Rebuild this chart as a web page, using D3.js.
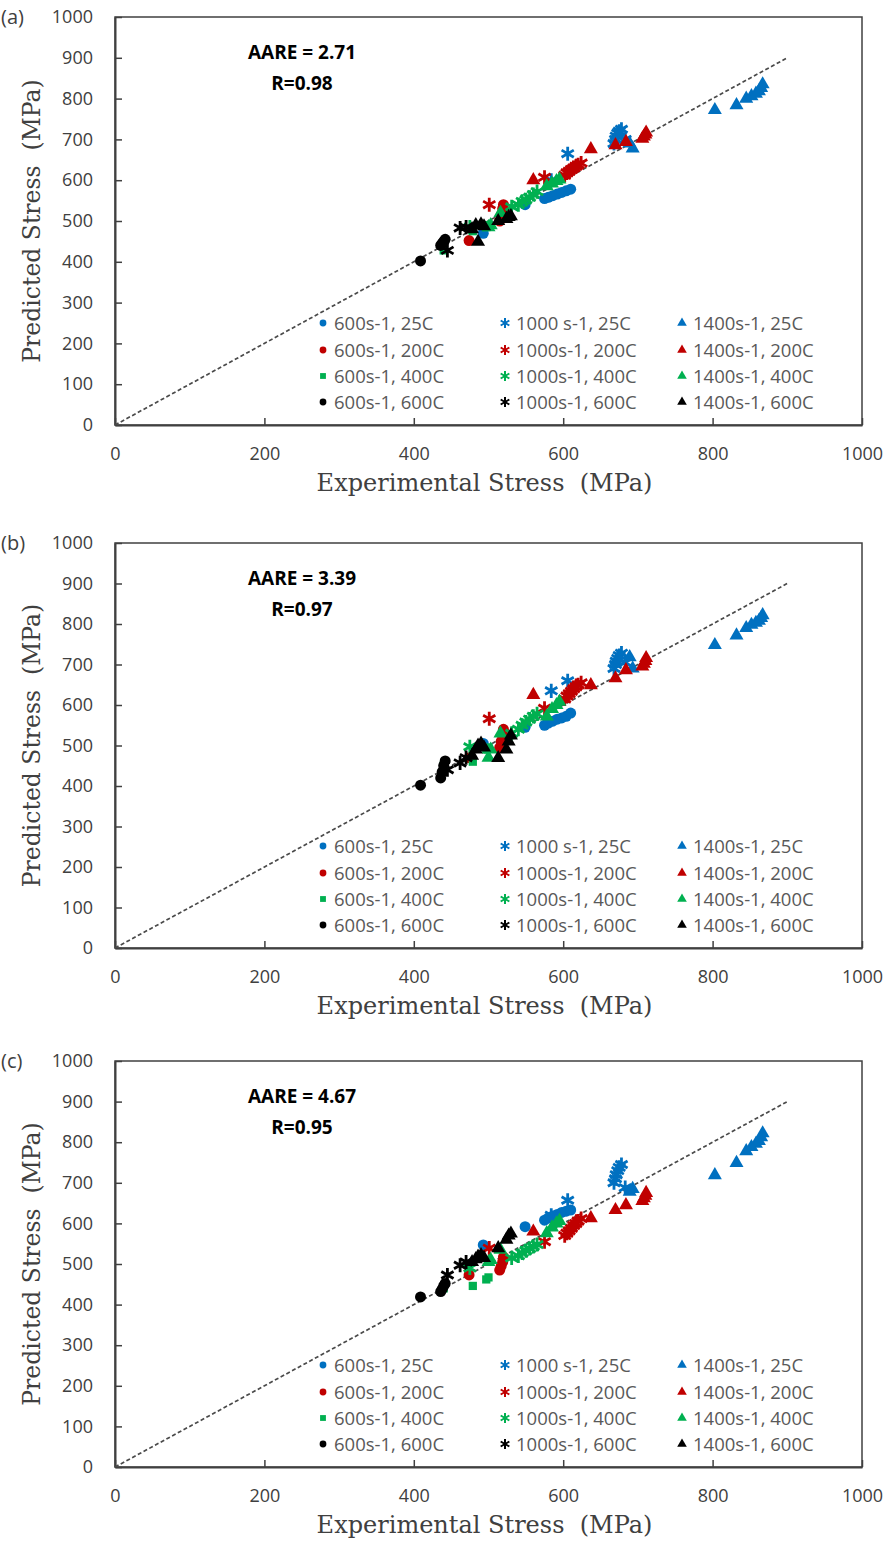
<!DOCTYPE html>
<html>
<head>
<meta charset="utf-8">
<script src="https://cdn.jsdelivr.net/npm/d3@7"></script>
<style>
  body { margin: 0; background: #fff; }
  svg { display: block; }
</style>
</head>
<body>
<svg id="chart" width="888" height="1551"></svg>
<script>
// legend order: rows = temperature, columns = strain rate
var seriesLabels = ["600s-1, 25C", "1000 s-1, 25C", "1400s-1, 25C",
                    "600s-1, 200C", "1000s-1, 200C", "1400s-1, 200C",
                    "600s-1, 400C", "1000s-1, 400C", "1400s-1, 400C",
                    "600s-1, 600C", "1000s-1, 600C", "1400s-1, 600C"];

// experimental stress (same experiments in every panel)
var expStress = [
  [493, 549, 575, 580, 586, 592, 598, 604, 610],
  [584, 606, 668, 670, 671, 673, 675, 678, 683],
  [689, 693, 803, 832, 845, 852, 858, 862, 865, 867],
  [474, 515, 517, 519, 520],
  [501, 575, 602, 605, 608, 611, 614, 617, 620, 624],
  [560, 637, 670, 684, 706, 708, 710, 711],
  [440, 479, 497, 500],
  [475, 531, 540, 545, 550, 555, 560, 565],
  [500, 503, 516, 578, 585, 591, 595],
  [409, 436, 438, 440, 442],
  [445, 462, 470],
  [478, 483, 486, 490, 494, 513, 524, 527, 530]
];

// predicted stress, panel (a)
var predA = [
  [470, 540, 555, 558, 562, 566, 570, 574, 578],
  [600, 665, 690, 700, 708, 715, 720, 725, 700],
  [690, 678, 772, 784, 800, 806, 812, 818, 826, 835],
  [452, 500, 515, 530, 540],
  [540, 607, 612, 618, 622, 626, 630, 634, 638, 642],
  [600, 676, 686, 694, 702, 707, 712, 717],
  [428, 475, 485, 490],
  [485, 535, 540, 548, 552, 558, 565, 572],
  [485, 490, 520, 585, 592, 598, 602],
  [402, 440, 445, 450, 455],
  [428, 483, 485],
  [480, 490, 449, 492, 487, 500, 505, 510, 512]
];

// predicted stress, panel (b)
var predB = [
  [505, 545, 550, 555, 560, 565, 568, 572, 580],
  [635, 660, 690, 700, 708, 715, 722, 728, 705],
  [718, 690, 748, 772, 790, 798, 803, 808, 815, 822],
  [470, 495, 510, 525, 540],
  [566, 592, 615, 622, 628, 634, 640, 645, 650, 655],
  [625, 649, 666, 686, 695, 702, 709, 716],
  [450, 460, 490, 495],
  [497, 530, 540, 550, 558, 565, 572, 578],
  [470, 490, 530, 572, 590, 600, 608],
  [402, 420, 435, 450, 462],
  [440, 457, 470],
  [475, 490, 500, 505, 495, 469, 490, 510, 525]
];

// predicted stress, panel (c)
var predC = [
  [547, 592, 608, 613, 618, 622, 627, 630, 633],
  [620, 657, 700, 710, 720, 730, 738, 745, 688],
  [678, 685, 719, 749, 778, 788, 796, 803, 812, 822],
  [473, 485, 495, 505, 517],
  [539, 555, 570, 576, 582, 588, 595, 600, 606, 612],
  [580, 613, 633, 645, 655, 662, 668, 675],
  [440, 446, 462, 467],
  [490, 515, 520, 527, 533, 538, 543, 548],
  [505, 510, 535, 576, 590, 600, 606],
  [419, 432, 438, 446, 452],
  [473, 497, 505],
  [505, 512, 518, 522, 515, 539, 560, 570, 575]
];

var panelLabels = ["(a)", "(b)", "(c)"];
var aareLabels = ["AARE = 2.71", "AARE = 3.39", "AARE = 4.67"];
var rLabels = ["R=0.98", "R=0.97", "R=0.95"];
var axisTicks = [0, 100, 200, 300, 400, 500, 600, 700, 800, 900, 1000];
var xTicks = [0, 200, 400, 600, 800, 1000];
var parityLine = [0, 900];

var tempColors = ["#0070C0", "#C00000", "#00B050", "#000000"];

function shapeOf(i) {
  var col = i % 3, row = Math.floor(i / 3);
  if (col === 1) return d3.symbolAsterisk;
  if (col === 2) return d3.symbolTriangle;
  return row === 2 ? d3.symbolSquare : d3.symbolCircle;
}
function sizeOf(i, legend) {
  var s = shapeOf(i);
  if (s === d3.symbolAsterisk) return legend ? 70 : 140;
  if (s === d3.symbolTriangle) return legend ? 40 : 85;
  if (s === d3.symbolSquare) return legend ? 34 : 68;
  return legend ? 36 : 95;
}
function colorOf(i) { return tempColors[Math.floor(i / 3)]; }

var svg = d3.select("#chart");
var left = 115, right = 862;
var panels = [
  {top: 17, bottom: 425, pred: predA},
  {top: 543, bottom: 948, pred: predB},
  {top: 1061, bottom: 1467, pred: predC}
];

panels.forEach(function(p, k) {
  var g = svg.append("g");
  var x = d3.scaleLinear().domain([0, 1000]).range([left, right]);
  var y = d3.scaleLinear().domain([0, 1000]).range([p.bottom, p.top]);

  // box
  g.append("rect")
    .attr("x", left).attr("y", p.top)
    .attr("width", right - left).attr("height", p.bottom - p.top)
    .attr("fill", "none").attr("stroke", "#404040").attr("stroke-width", 1.5);

  var yAxis = d3.axisLeft(y).tickValues(axisTicks).tickFormat(d3.format("d"))
    .tickSizeInner(-7).tickSizeOuter(0).tickPadding(22);
  var xAxis = d3.axisBottom(x).tickValues(xTicks).tickFormat(d3.format("d"))
    .tickSizeInner(-7).tickSizeOuter(0).tickPadding(22);

  var ya = g.append("g").attr("transform", "translate(" + left + ",0)").call(yAxis);
  var xa = g.append("g").attr("transform", "translate(0," + p.bottom + ")").call(xAxis);
  [ya, xa].forEach(function(a) {
    a.select(".domain").attr("stroke", "#404040").attr("stroke-width", 2);
    a.selectAll(".tick line").attr("stroke", "#404040").attr("stroke-width", 1.5);
    a.selectAll(".tick text").attr("fill", "#404040")
      .style("font-family", "'Open Sans'").style("font-size", "18px");
  });

  // y = x line
  g.append("line")
    .attr("x1", x(parityLine[0])).attr("y1", y(parityLine[0]))
    .attr("x2", x(parityLine[1])).attr("y2", y(parityLine[1]))
    .attr("stroke", "#4a4a4a").attr("stroke-width", 1.7)
    .attr("stroke-dasharray", "4,2.5");

  // points
  expStress.forEach(function(xs, i) {
    var pts = xs.map(function(v, j) { return [v, p.pred[i][j]]; });
    var sym = d3.symbol().type(shapeOf(i)).size(sizeOf(i, false));
    var asterisk = shapeOf(i) === d3.symbolAsterisk;
    g.selectAll(".s" + i).data(pts).enter()
      .append("path")
      .attr("class", "s" + i)
      .attr("d", sym)
      .attr("transform", function(d) { return "translate(" + x(d[0]) + "," + y(d[1]) + ")"; })
      .attr("fill", asterisk ? "none" : colorOf(i))
      .attr("stroke", asterisk ? colorOf(i) : "none")
      .attr("stroke-width", asterisk ? 2.8 : 0);
  });

  // legend
  var colX = [323, 505, 682];
  var rowOff = [101, 74, 48, 22];
  seriesLabels.forEach(function(lab, i) {
    var cx = colX[i % 3], cy = p.bottom - rowOff[Math.floor(i / 3)];
    var asterisk = shapeOf(i) === d3.symbolAsterisk;
    g.append("path")
      .attr("d", d3.symbol().type(shapeOf(i)).size(sizeOf(i, true)))
      .attr("transform", "translate(" + cx + "," + (cy - 1) + ")")
      .attr("fill", asterisk ? "none" : colorOf(i))
      .attr("stroke", asterisk ? colorOf(i) : "none")
      .attr("stroke-width", asterisk ? 2 : 0);
    g.append("text")
      .attr("x", cx + 11).attr("y", cy)
      .attr("dy", "0.35em")
      .attr("fill", "#595959")
      .style("font-family", "'Open Sans'").style("font-size", "18.5px")
      .text(lab);
  });

  // annotations
  g.append("text")
    .attr("x", 302).attr("y", p.top + 42)
    .attr("text-anchor", "middle")
    .attr("fill", "#000")
    .style("font-family", "'Open Sans'").style("font-weight", "bold").style("font-size", "19px")
    .text(aareLabels[k]);
  g.append("text")
    .attr("x", 302).attr("y", p.top + 73)
    .attr("text-anchor", "middle")
    .attr("fill", "#000")
    .style("font-family", "'Open Sans'").style("font-weight", "bold").style("font-size", "19px")
    .text(rLabels[k]);

  g.append("text")
    .attr("x", 1).attr("y", p.top + 7)
    .attr("fill", "#404040")
    .style("font-family", "'Open Sans'").style("font-size", "20px")
    .text(panelLabels[k]);

  // axis titles
  g.append("text")
    .attr("x", (left + right) / 2 - 4).attr("y", p.bottom + 66)
    .attr("text-anchor", "middle")
    .attr("fill", "#404040")
    .style("font-family", "'DejaVu Serif'").style("font-size", "24px")
    .style("white-space", "pre")
    .text("Experimental Stress  (MPa)");
  g.append("text")
    .attr("transform", "translate(40," + ((p.top + p.bottom) / 2) + ") rotate(-90)")
    .attr("text-anchor", "middle")
    .attr("fill", "#404040")
    .style("font-family", "'DejaVu Serif'").style("font-size", "23.5px")
    .style("white-space", "pre")
    .text("Predicted Stress  (MPa)");
});
</script>
</body>
</html>
